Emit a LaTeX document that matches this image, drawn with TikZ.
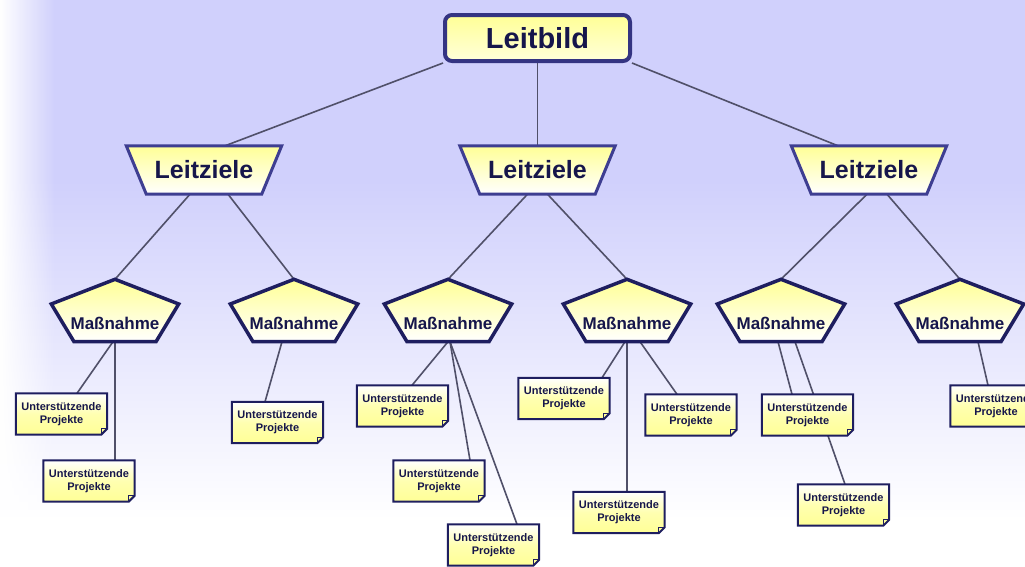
\documentclass[tikz,border=0pt]{standalone}
\usepackage{fontspec}
\newfontfamily\arialf{Liberation Sans}
\usetikzlibrary{calc,fadings}
\definecolor{lav}{RGB}{208,208,252}
\definecolor{navy}{RGB}{30,30,95}
\definecolor{lbborder}{RGB}{52,52,130}
\definecolor{lzborder}{RGB}{62,62,145}
\definecolor{txt}{RGB}{22,22,75}
\definecolor{yel}{RGB}{255,255,150}
\definecolor{connc}{RGB}{80,80,105}
\pgfdeclarelayer{bg}\pgfdeclarelayer{lines}\pgfdeclarelayer{shapes}
\pgfsetlayers{bg,lines,shapes,main}
\tikzfading[name=fadeR, left color=transparent!0, right color=transparent!100]
\tikzset{
  lbnode/.style={draw=lbborder, line width=4pt, rounded corners=7pt, top color=yel, bottom color=yel!35!white,
    minimum width=185pt, minimum height=46pt, inner sep=0pt, text=txt, font=\arialf\bfseries\fontsize{29}{30}\selectfont},
  lznode/.style={minimum width=155pt, minimum height=48pt, inner sep=0pt, text=txt, font=\arialf\bfseries\fontsize{25}{26}\selectfont},
  lzshape/.style={draw=lzborder, line width=3pt, line join=miter, top color=yel, bottom color=white},
  mnode/.style={minimum width=127pt, minimum height=62pt, inner sep=0pt, text height=37pt, text depth=0pt, text=txt, font=\arialf\bfseries\fontsize{17}{18}\selectfont},
  mshape/.style={draw=navy, line width=3.5pt, line join=miter, top color=yel, bottom color=white},
  pnode/.style={minimum width=91pt, minimum height=41pt, inner sep=0pt, align=center, text=txt, font=\arialf\bfseries\fontsize{11}{13}\selectfont},
  pshape/.style={draw=navy, line width=2pt, top color=white, bottom color=yel, middle color=yel!75!white},
  link/.style={draw=connc, line width=1.6pt}
}
\newcommand\drawtrap[1]{\begin{pgfonlayer}{shapes}\path[lzshape] (#1.north west) -- (#1.north east) -- ([xshift=-20pt]#1.south east) -- ([xshift=20pt]#1.south west) -- cycle;\end{pgfonlayer}}
\newcommand\drawpent[1]{\begin{pgfonlayer}{shapes}\path[mshape] (#1.north) -- ([yshift=6.5pt]#1.east) -- ([xshift=41pt]#1.south) -- ([xshift=-41pt]#1.south) -- ([yshift=6.5pt]#1.west) -- cycle;\end{pgfonlayer}}
\newcommand\drawproj[1]{\begin{pgfonlayer}{shapes}\path[pshape] (#1.north west) -- (#1.north east) -- ([yshift=6pt]#1.south east) -- ([xshift=-6pt]#1.south east) -- (#1.south west) -- cycle;
  \draw[navy, line width=1pt] ([yshift=6pt]#1.south east) -- ([xshift=-6pt,yshift=6pt]#1.south east) -- ([xshift=-6pt]#1.south east);\end{pgfonlayer}}
\begin{document}
\begin{tikzpicture}[x=1pt,y=-1pt]
\useasboundingbox (0,0) rectangle (1025,566);
\begin{pgfonlayer}{bg}
  \fill[lav] (0,0) rectangle (1025,180);
  \shade[top color=lav, bottom color=white] (0,179.5) rectangle (1025,520);
  \fill[white] (0,519.5) rectangle (1025,566);
  \fill[white, path fading=fadeR] (0,0) rectangle (55,566);
\end{pgfonlayer}
% top
\node[lbnode] (lb) at (537.5,38) {Leitbild};
% Leitziele
\node[lznode] (lz1) at (204,170) {Leitziele}; \drawtrap{lz1}
\node[lznode] (lz2) at (537.5,170) {Leitziele}; \drawtrap{lz2}
\node[lznode] (lz3) at (869,170) {Leitziele}; \drawtrap{lz3}
% Massnahmen
\foreach \n/\x in {m1/115,m2/294,m3/448,m4/627,m5/781,m6/960}{
  \node[mnode] (\n) at (\x,310.5) {Maßnahme}; \drawpent{\n}
}
% Projekte
\foreach \n/\x/\y in {p1/61.5/414,p2/89/481,p3/277.5/422.5,p4/402.5/406,p5/439/481,p6/493.5/545,
  p7/564/398.5,p8/691/415,p9/619/512.5,p10/807.5/415,p11/843.5/505,p12/996/406}{
  \node[pnode] (\n) at (\x,\y) {Unterstützende\\Projekte}; \drawproj{\n}
}
\begin{pgfonlayer}{lines}
  \draw[link] (lb.south west) -- ([xshift=21pt]lz1.north);
  \draw[link] (lb.south) -- (lz2.north);
  \draw[link] (lb.south east) -- ([xshift=-31pt]lz3.north);
  \draw[link] ([xshift=-14pt]lz1.south) -- (m1.north);
  \draw[link] ([xshift=24pt]lz1.south) -- (m2.north);
  \draw[link] ([xshift=-10pt]lz2.south) -- (m3.north);
  \draw[link] ([xshift=10pt]lz2.south) -- (m4.north);
  \draw[link] ([xshift=-2pt]lz3.south) -- (m5.north);
  \draw[link] ([xshift=18pt]lz3.south) -- (m6.north);
  \draw[link] ([xshift=-2pt]m1.south) -- ([xshift=15.5pt]p1.north);
  \draw[link] (m1.south) -- (m1.south |- p2.north);
  \draw[link] ([xshift=-12pt]m2.south) -- ([xshift=-12.5pt]p3.north);
  \draw[link] (m3.south) -- ([xshift=9.5pt]p4.north);
  \draw[link] ([xshift=2pt]m3.south) -- ([xshift=31pt]p5.north);
  \draw[link] ([xshift=2pt]m3.south) -- ([xshift=23.5pt]p6.north);
  \draw[link] ([xshift=-2pt]m4.south) -- ([xshift=38pt]p7.north);
  \draw[link] ([xshift=13pt]m4.south) -- ([xshift=-14pt]p8.north);
  \draw[link] (m4.south) -- (m4.south |- p9.north);
  \draw[link] ([xshift=-3pt]m5.south) -- ([xshift=-15.5pt]p10.north);
  \draw[link] ([xshift=14pt]m5.south) -- ([xshift=1.5pt]p11.north);
  \draw[link] ([xshift=18pt]m6.south) -- ([xshift=-8pt]p12.north);
\end{pgfonlayer}
\end{tikzpicture}
\end{document}
